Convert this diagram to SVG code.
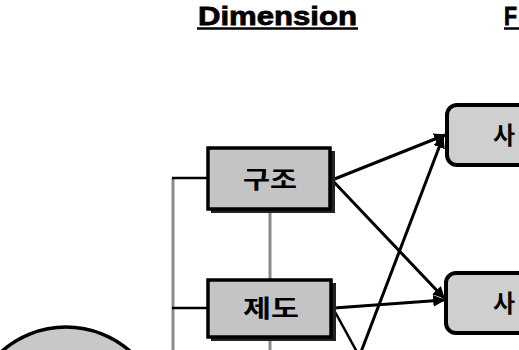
<svg xmlns="http://www.w3.org/2000/svg" width="519" height="350" viewBox="0 0 519 350">
  <style>
    .hdr { font-family: "Liberation Sans", Arial, sans-serif; font-weight: 900; font-size: 26px; fill: #000; stroke: #000; stroke-width: 0.8; }
    .box { fill: #c4c4c4; stroke: #000; stroke-width: 3.5; }
    .shadow { fill: #222; }
    .rbox { fill: #cfcfcf; stroke: #000; stroke-width: 4; }
    .lbl { font-family: "Noto Sans CJK KR", "Noto Sans", sans-serif; font-weight: 700; font-size: 24px; fill: #000; text-anchor: middle; }
    .gray { stroke: #8a8a8a; stroke-width: 3; fill: none; }
    .blk { stroke: #000; stroke-width: 2.5; fill: none; }
    .arr { stroke: #000; stroke-width: 3; fill: none; marker-end: url(#ah); }
  </style>
  <defs>
    <marker id="ah" viewBox="0 0 10 10" refX="9" refY="5" markerWidth="4" markerHeight="4" orient="auto" markerUnits="strokeWidth">
      <path d="M0,0 L10,5 L0,10 z" fill="#000"/>
    </marker>
  </defs>
  <rect width="519" height="350" fill="#fff"/>

  <g id="headers">
    <text class="hdr" x="198" y="25" textLength="159" lengthAdjust="spacingAndGlyphs">Dimension</text>
    <line x1="197" y1="28.5" x2="358" y2="28.5" stroke="#000" stroke-width="2.5"/>
    <text class="hdr" x="504" y="25" textLength="13" lengthAdjust="spacingAndGlyphs">F</text>
    <line x1="504" y1="28.5" x2="519" y2="28.5" stroke="#000" stroke-width="2.5"/>
  </g>

  <g id="connectors">
    <polyline class="gray" points="173,350 173,178"/>
    <line class="blk" x1="172" y1="178" x2="208" y2="178"/>
    <line class="blk" x1="172" y1="308" x2="208" y2="308"/>
    <line class="gray" x1="270" y1="210" x2="270" y2="280"/>
    <line class="gray" x1="270" y1="338" x2="270" y2="350"/>
    <line class="arr" x1="332" y1="180" x2="445" y2="135"/>
    <line class="arr" x1="332" y1="180" x2="444" y2="298"/>
    <line class="arr" x1="334" y1="308" x2="444" y2="300"/>
    <line class="arr" x1="361" y1="352" x2="443" y2="137"/>
    <line class="blk" x1="334" y1="310" x2="357" y2="352" stroke-width="3"/>
  </g>

  <g id="node-gujo">
    <rect class="shadow" x="211" y="151" width="124" height="62"/>
    <rect class="box" x="208" y="148" width="122" height="61"/>
    <text class="lbl" x="270" y="188" textLength="54" lengthAdjust="spacingAndGlyphs">구조</text>
  </g>

  <g id="node-jedo">
    <rect class="shadow" x="211" y="283" width="125" height="58"/>
    <rect class="box" x="208" y="280" width="123" height="57"/>
    <text class="lbl" x="271" y="317" textLength="56" lengthAdjust="spacingAndGlyphs">제도</text>
  </g>

  <g id="node-sa1">
    <rect class="rbox" x="447" y="105" width="110" height="60" rx="10"/>
    <text class="lbl" x="504" y="144">사</text>
  </g>

  <g id="node-sa2">
    <rect class="rbox" x="446" y="273" width="110" height="60" rx="10"/>
    <text class="lbl" x="504" y="312">사</text>
  </g>

  <g id="node-circle">
    <circle cx="66" cy="424" r="97" fill="#c8c8c8" stroke="#000" stroke-width="3.5"/>
  </g>
</svg>
